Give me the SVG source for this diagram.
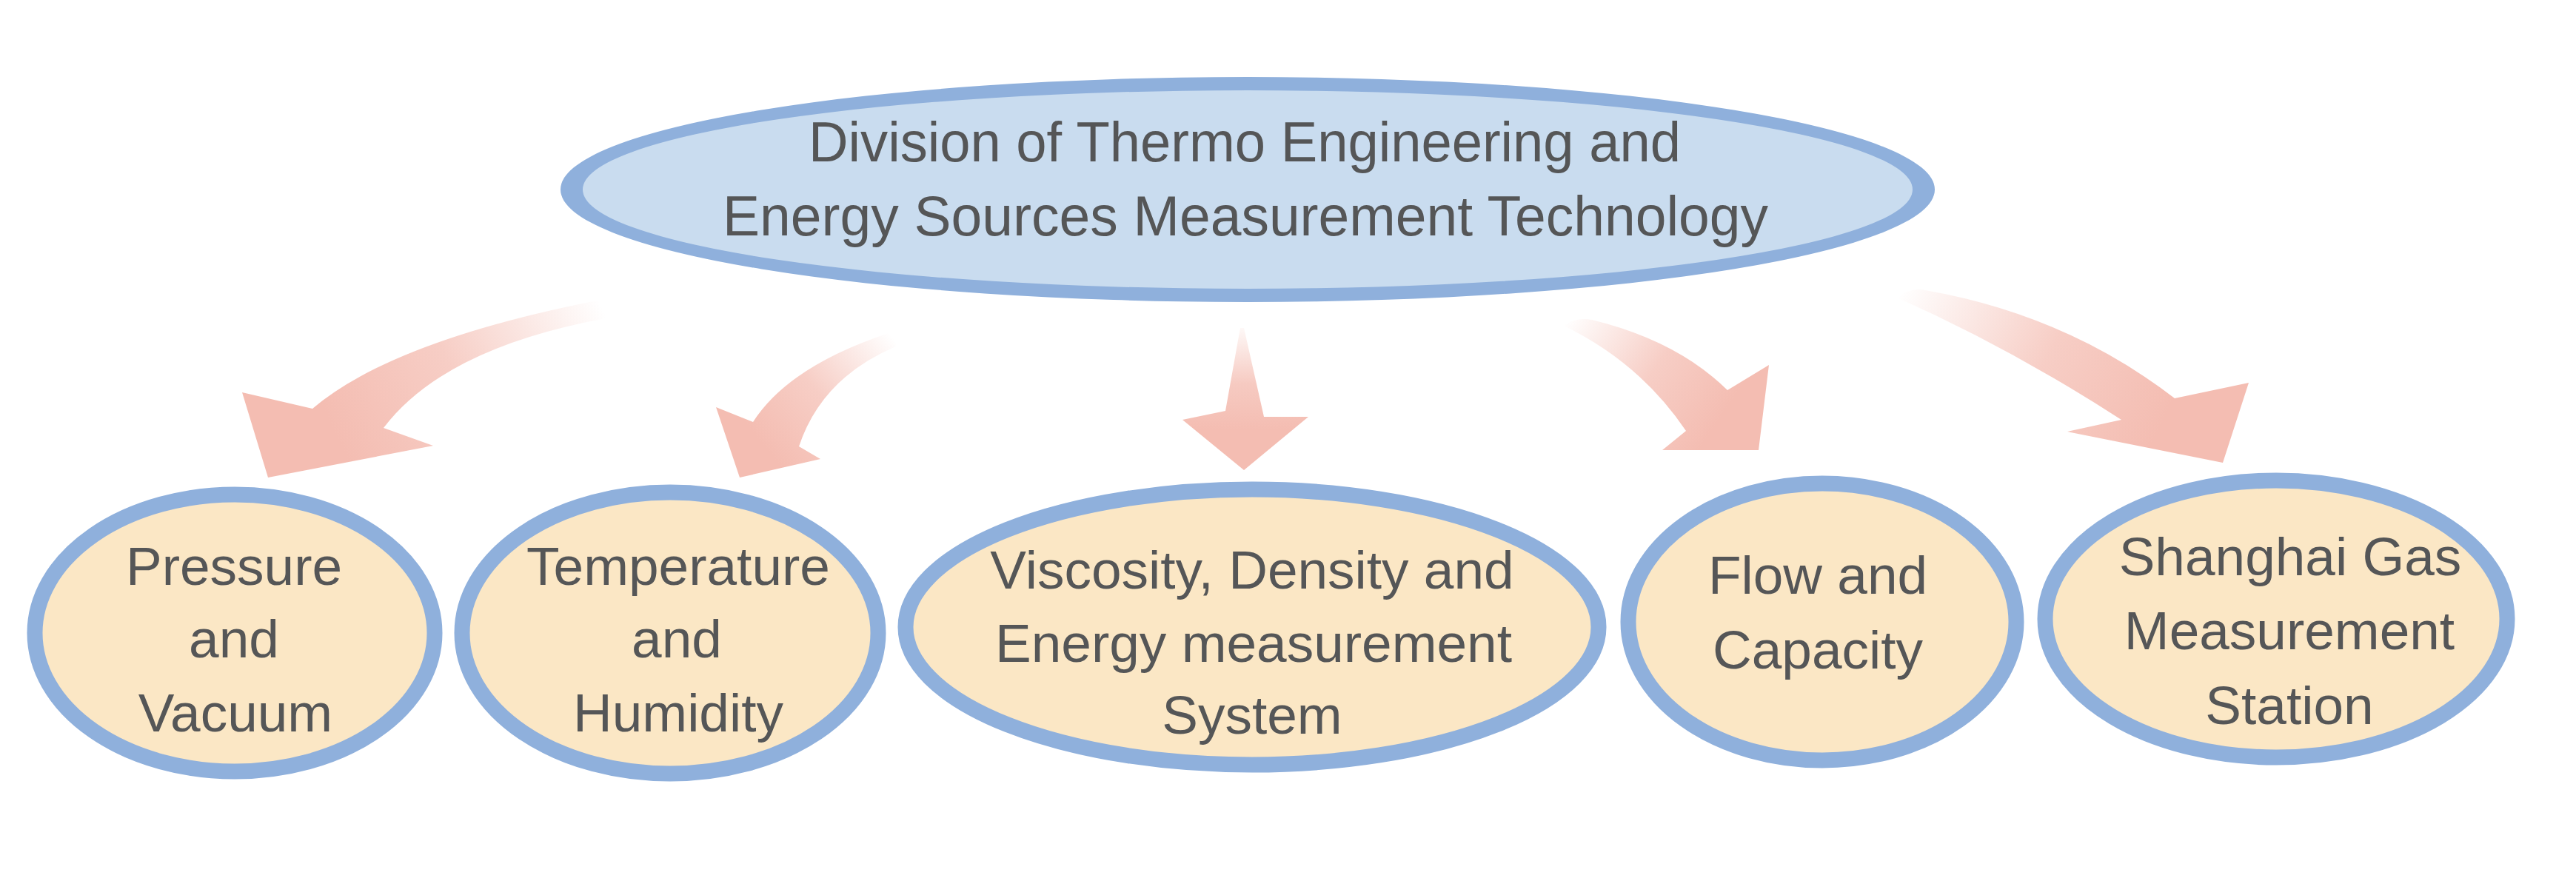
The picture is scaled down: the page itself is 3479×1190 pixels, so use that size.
<svg xmlns="http://www.w3.org/2000/svg" width="3479" height="1190" viewBox="0 0 3479 1190">
<defs>
<style>
.ring{stroke:#8fb0dc;stroke-width:21}
.band{fill:#8fb0dc;fill-rule:evenodd}
.top{fill:#c9dcef}
.leaf{fill:#fbe7c5}
.t{font-family:"Liberation Sans",Arial,sans-serif;fill:#555657;text-anchor:middle}
.tt{font-size:76px}
.lt{font-size:73px}
</style>
<linearGradient id="g1" gradientUnits="userSpaceOnUse" x1="811" y1="410" x2="450" y2="580"><stop offset="0" stop-color="#f4bdb2" stop-opacity="0"/><stop offset="0.55" stop-color="#f4bdb2" stop-opacity="0.75"/><stop offset="1" stop-color="#f4bdb2"/></linearGradient>
<linearGradient id="g2" gradientUnits="userSpaceOnUse" x1="1205" y1="455" x2="1030" y2="600"><stop offset="0" stop-color="#f4bdb2" stop-opacity="0"/><stop offset="0.55" stop-color="#f4bdb2" stop-opacity="0.75"/><stop offset="1" stop-color="#f4bdb2"/></linearGradient>
<linearGradient id="g3" gradientUnits="userSpaceOnUse" x1="1678" y1="443" x2="1678" y2="580"><stop offset="0" stop-color="#f4bdb2" stop-opacity="0.1"/><stop offset="0.55" stop-color="#f4bdb2" stop-opacity="0.8"/><stop offset="1" stop-color="#f4bdb2"/></linearGradient>
<linearGradient id="g4" gradientUnits="userSpaceOnUse" x1="2115" y1="433" x2="2320" y2="570"><stop offset="0" stop-color="#f4bdb2" stop-opacity="0"/><stop offset="0.55" stop-color="#f4bdb2" stop-opacity="0.75"/><stop offset="1" stop-color="#f4bdb2"/></linearGradient>
<linearGradient id="g5" gradientUnits="userSpaceOnUse" x1="2566" y1="395" x2="2920" y2="570"><stop offset="0" stop-color="#f4bdb2" stop-opacity="0"/><stop offset="0.55" stop-color="#f4bdb2" stop-opacity="0.75"/><stop offset="1" stop-color="#f4bdb2"/></linearGradient>
</defs>
<rect width="3479" height="1190" fill="#ffffff"/>
<g id="connectors">
<path id="a1" fill="url(#g1)" d="M362,645 L327,530 L422,552 Q530,460 811,405 Q822,415 818,430 Q600,470 518,578 L585,602 Z"/>
<path id="a2" fill="url(#g2)" d="M999,645 L967,550 L1017,570 Q1065,495 1200,450 Q1212,456 1210,468 Q1110,510 1079,603 L1108,620 Z"/>
<path id="a3" fill="url(#g3)" d="M1680,635 L1597,567 L1655,555 L1675,443 L1680,443 L1707,563 L1767,563 Z"/>
<path id="a4" fill="url(#g4)" d="M2375,608 L2245,608 L2277,582 Q2215,490 2112,440 Q2128,428 2150,432 Q2265,460 2333,527 L2389,493 Z"/>
<path id="a5" fill="url(#g5)" d="M3002,625 L2792,583 L2865,567 Q2715,470 2562,402 Q2580,388 2600,392 Q2790,425 2937,538 L3037,517 Z"/>
</g>
<g id="division">
<ellipse class="top" cx="1685" cy="256" rx="910" ry="143"/>
<path class="band" d="M757,256 a928,152 0 1,0 1856,0 a928,152 0 1,0 -1856,0 Z M787,256 a898,134 0 1,0 1796,0 a898,134 0 1,0 -1796,0 Z"/>
<text class="t tt" x="1681" y="218" textLength="1178" lengthAdjust="spacingAndGlyphs">Division of Thermo Engineering and</text>
<text class="t tt" x="1682" y="318" textLength="1412" lengthAdjust="spacingAndGlyphs">Energy Sources Measurement Technology</text>
</g>
<g id="pressure">
<ellipse class="ring leaf" cx="317" cy="855" rx="270" ry="187"/>
<text class="t lt" x="316" y="790">Pressure</text>
<text class="t lt" x="316" y="888">and</text>
<text class="t lt" x="318" y="988">Vacuum</text>
</g>
<g id="temperature">
<ellipse class="ring leaf" cx="905" cy="855" rx="281" ry="190"/>
<text class="t lt" x="916" y="790">Temperature</text>
<text class="t lt" x="914" y="888">and</text>
<text class="t lt" x="916" y="988">Humidity</text>
</g>
<g id="viscosity">
<ellipse class="ring leaf" cx="1691" cy="847" rx="468" ry="186"/>
<text class="t lt" x="1691" y="795">Viscosity, Density and</text>
<text class="t lt" x="1693" y="894">Energy measurement</text>
<text class="t lt" x="1691" y="991">System</text>
</g>
<g id="flow">
<ellipse class="ring leaf" cx="2461" cy="840" rx="262" ry="187"/>
<text class="t lt" x="2455" y="802">Flow and</text>
<text class="t lt" x="2455" y="903">Capacity</text>
</g>
<g id="shanghai">
<ellipse class="ring leaf" cx="3074" cy="836" rx="312" ry="187"/>
<text class="t lt" x="3093" y="777">Shanghai Gas</text>
<text class="t lt" x="3092" y="877">Measurement</text>
<text class="t lt" x="3092" y="978">Station</text>
</g>
</svg>
